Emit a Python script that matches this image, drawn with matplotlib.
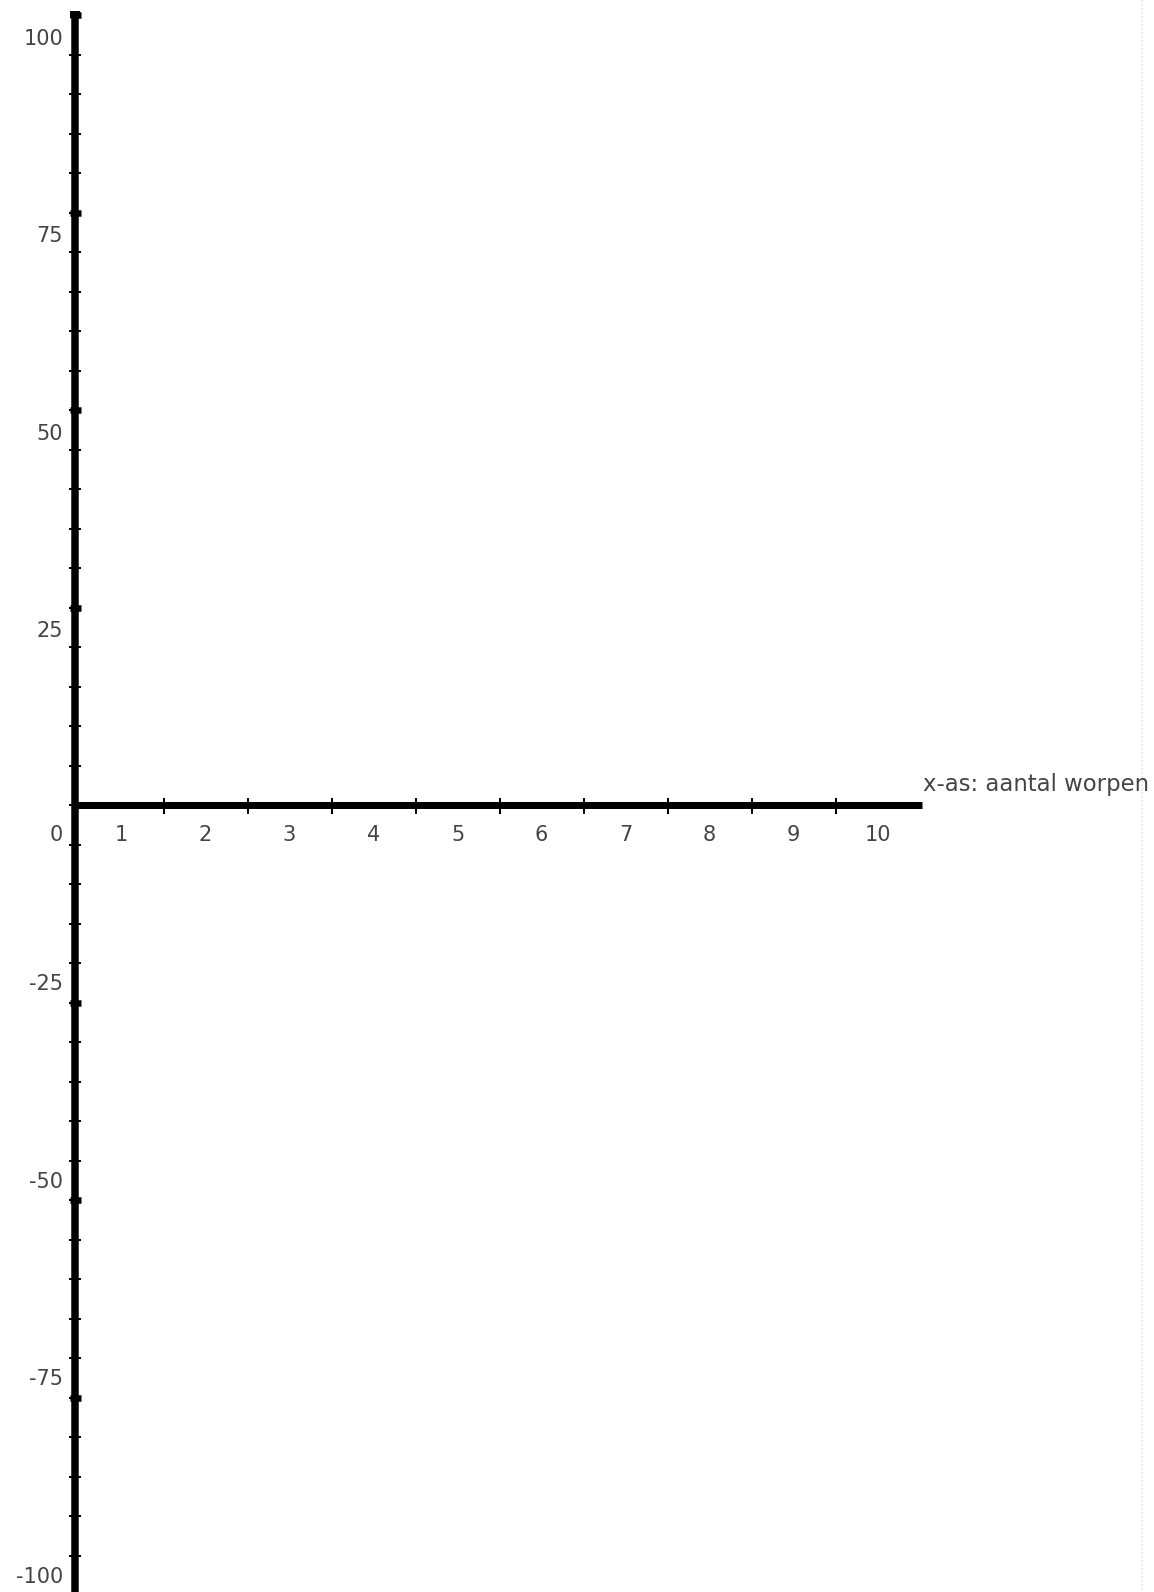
import matplotlib
matplotlib.use("Agg")
import matplotlib.pyplot as plt
import numpy as np

# ---- data ----
x_ticks = [1, 2, 3, 4, 5, 6, 7, 8, 9]
x_labels = ["1", "2", "3", "4", "5", "6", "7", "8", "9", "10"]
y_major = [100, 75, 50, 25, -25, -50, -75, -100]
y_labels = ["100", "75", "50", "25", "0", "-25", "-50", "-75", "-100"]
y_label_vals = [100, 75, 50, 25, 0, -25, -50, -75, -100]
y_minor = list(range(-95, 100, 5))
x_axis_title = "x-as: aantal worpen"

# ---- layout (pixel mapping of reference) ----
W, H = 1154, 1592
px0, pxu = 79.5, 84.0      # x: pixel = px0 + pxu * x
py0, pyu = 805.0, 7.9      # y: pixel = py0 - pyu * v

def X(p):  # pixel -> data x
    return (p - px0) / pxu

def Y(p):  # pixel -> data y
    return (py0 - p) / pyu

fig = plt.figure(figsize=(W / 100, H / 100), dpi=100)
ax = fig.add_axes([0, 0, 1, 1])
ax.set_xlim(X(0), X(W))
ax.set_ylim(Y(H), Y(0))
ax.axis("off")

PT = 0.72  # px -> pt
font = ["DejaVu Sans"]
tcol = "#444444"
fs = 15

# y axis
ya = X(75)
ax.plot([ya, ya], [Y(H + 5), Y(11)], color="black", lw=7.5 * PT, solid_capstyle="butt", zorder=3)
# top cap
ax.plot([ya, ya], [Y(18), Y(11)], color="black", lw=10 * PT, solid_capstyle="butt", zorder=3)

# y minor ticks
for v in y_minor:
    ax.plot([X(69), X(81)], [v, v], color="black", lw=2 * PT, solid_capstyle="butt", zorder=4)
# y major ticks
for v in y_major:
    ax.plot([X(69.5), X(81)], [v, v], color="black", lw=6.5 * PT, solid_capstyle="butt", zorder=4)

# x axis
ax.plot([ya, X(922)], [0, 0], color="black", lw=7 * PT, solid_capstyle="butt", zorder=3)
for t in x_ticks:
    ax.plot([t, t], [Y(798), Y(814)], color="black", lw=2 * PT, solid_capstyle="butt", zorder=4)

# x labels (centered between ticks)
for i, lab in enumerate(x_labels):
    ax.text(i + 0.5, Y(835), lab, ha="center", va="center", fontsize=fs,
            color=tcol, family=font)

# y labels
for v, lab in zip(y_label_vals, y_labels):
    if v > 0:
        yy = v - 3.0
    elif v < 0:
        yy = v + 2.3
    else:
        yy = Y(835)
    ax.text(X(63), yy, lab, ha="right", va="center", fontsize=fs,
            color=tcol, family=font)

# axis title
ax.text(X(923), Y(785), x_axis_title, ha="left", va="center", fontsize=16.4,
        color=tcol, family=font)

# faint right border
ax.plot([X(1142), X(1142)], [Y(0), Y(H)], color="#ececec", lw=2 * PT,
        ls=(0, (1, 1)), zorder=1)

fig.savefig("out.png", dpi=100, facecolor="white")
